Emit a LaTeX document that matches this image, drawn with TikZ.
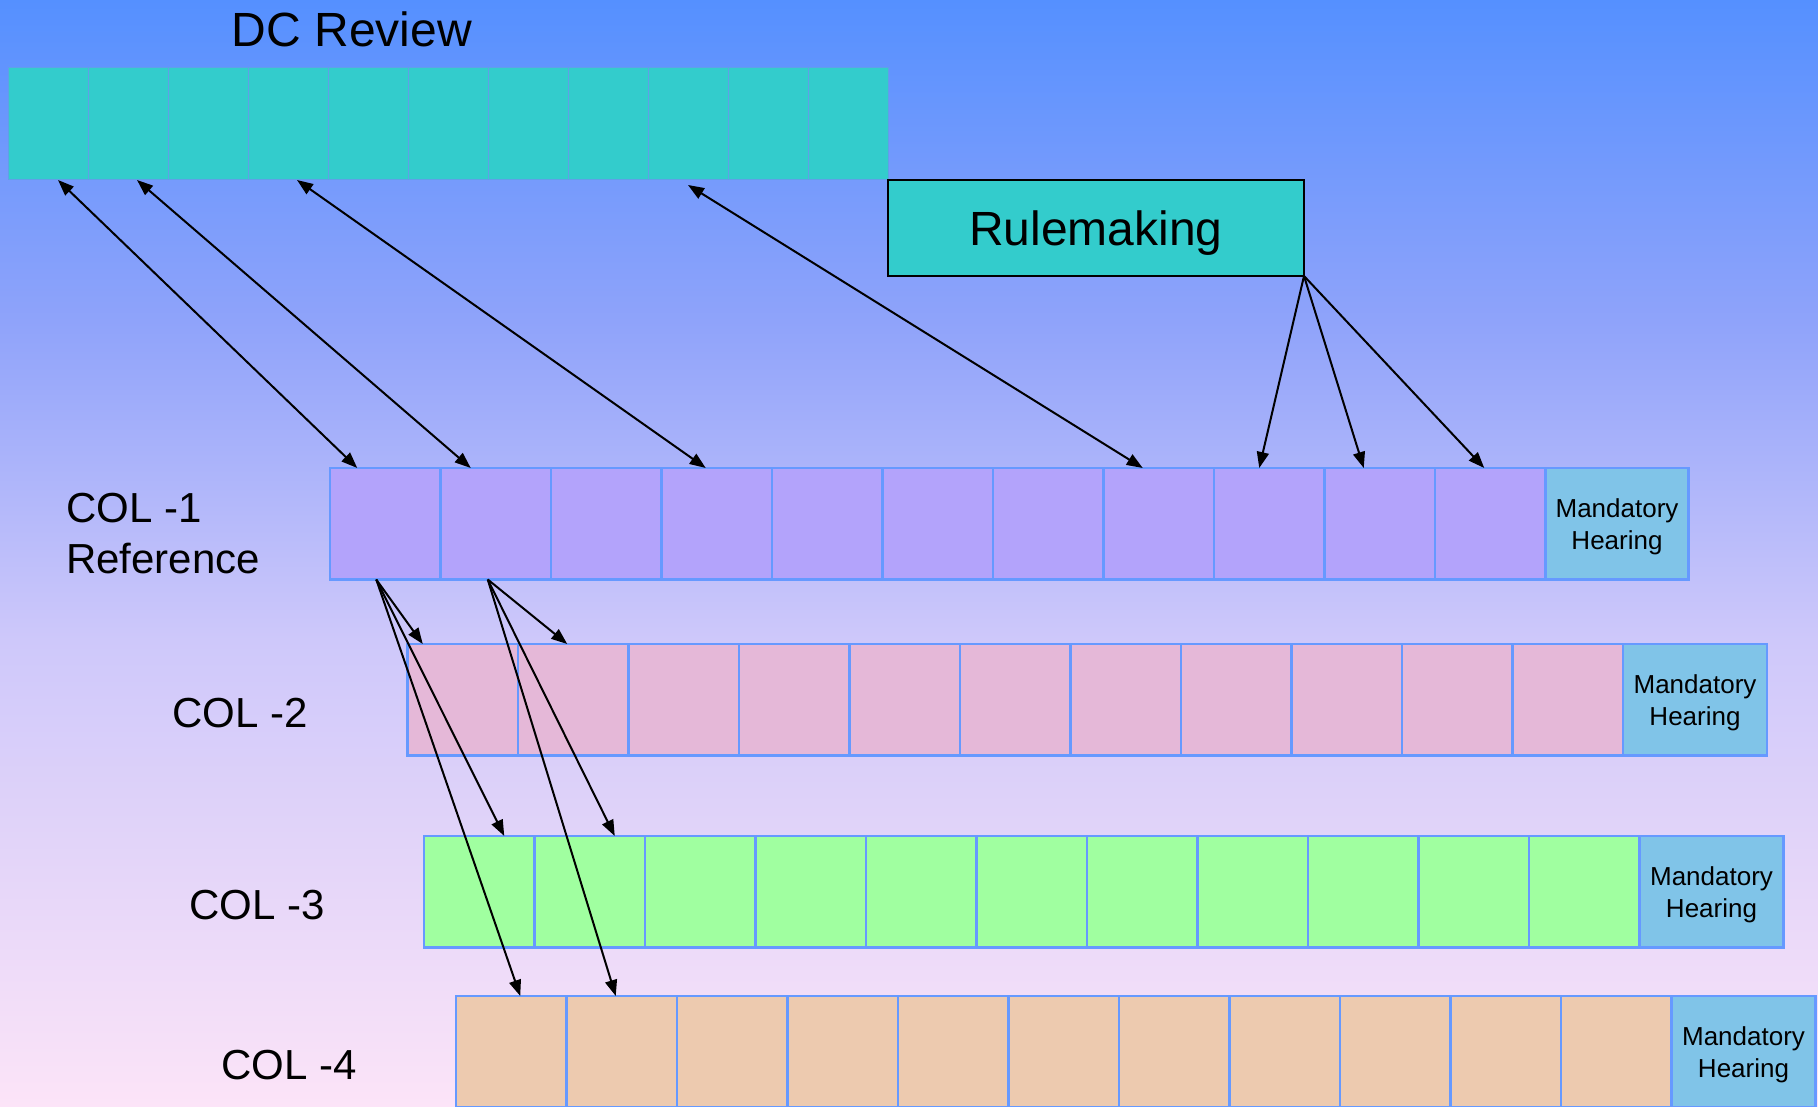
\documentclass[tikz,border=0pt]{standalone}
\usepackage{fontspec}
\setmainfont{Liberation Sans}
\usetikzlibrary{arrows.meta}
\definecolor{bgtop}{HTML}{5590FF}
\definecolor{bgup}{HTML}{8FA3FA}
\definecolor{bgmid}{HTML}{CEC8FA}
\definecolor{bgbot}{HTML}{FCE4F8}
\definecolor{tealfill}{HTML}{33CCCC}
\definecolor{dcline}{HTML}{5FA0E8}
\definecolor{colline}{HTML}{6699FF}
\definecolor{purplefill}{HTML}{B3A3FB}
\definecolor{pinkfill}{HTML}{E5B8D8}
\definecolor{greenfill}{HTML}{A0FFA0}
\definecolor{peachfill}{HTML}{EDCAAF}
\definecolor{mhblue}{HTML}{80C4E8}
\pgfdeclareverticalshading{bgshade}{100bp}{color(0bp)=(bgbot); color(25bp)=(bgbot); color(46.1bp)=(bgmid); color(60.5bp)=(bgup); color(75bp)=(bgtop); color(100bp)=(bgtop)}
\begin{document}
\begin{tikzpicture}[x=1pt,y=-1pt,
  dccell/.style={rectangle, fill=tealfill, draw=dcline, line width=1pt, minimum width=80pt, minimum height=112pt, inner sep=0pt, outer sep=0pt, anchor=north west},
  colcell/.style={rectangle, draw=colline, line width=2.5pt, minimum width=110.5pt, minimum height=111.5pt, inner sep=0pt, outer sep=0pt, anchor=north west},
  mhbox/.style={colcell, fill=mhblue, minimum width=144pt, align=center, text depth=0pt, font=\fontsize{26}{32}\selectfont},
  rulebox/.style={rectangle, fill=tealfill, draw=black, line width=2pt, minimum width=416pt, minimum height=96pt, inner sep=0pt, outer sep=0pt, anchor=north west, text depth=0pt, font=\fontsize{48}{58}\selectfont},
  lbl/.style={anchor=base west, inner sep=0pt, align=left, font=\fontsize{42}{51}\selectfont},
  tip/.tip={Triangle[length=16pt,width=12pt]},
  arr/.style={line width=2pt, -tip},
  darr/.style={line width=2pt, tip-tip}]
\useasboundingbox (0,0) rectangle (1818,1107);
\shade[shading=bgshade] (0,0) rectangle (1818,1107);

% DC Review row
\node[anchor=base, inner sep=0pt, font=\fontsize{48}{58}\selectfont] (title) at (352,47) {DC Review};
\foreach \i in {1,...,11} \node[dccell] (d\i) at ({8+(\i-1)*80},68) {};
\node[rulebox] (rule) at (888,180) {Rulemaking};

% COL -1
\foreach \i in {1,...,11} \node[colcell, fill=purplefill] (a\i) at ({330+(\i-1)*110.5},468) {};
\node[mhbox, minimum width=143pt] (a12) at (1545.5,468) {Mandatory\\Hearing};
% COL -2
\foreach \i in {1,...,11} \node[colcell, fill=pinkfill] (b\i) at ({407.5+(\i-1)*110.5},644) {};
\node[mhbox] (b12) at (1623,644) {Mandatory\\Hearing};
% COL -3
\foreach \i in {1,...,11} \node[colcell, fill=greenfill] (c\i) at ({424+(\i-1)*110.5},836) {};
\node[mhbox] (c12) at (1639.5,836) {Mandatory\\Hearing};
% COL -4
\foreach \i in {1,...,11} \node[colcell, fill=peachfill] (e\i) at ({456+(\i-1)*110.5},996) {};
\node[mhbox] (e12) at (1671.5,996) {Mandatory\\Hearing};

% labels
\node[lbl] (l1) at (66,573.5) {COL -1\\Reference};
\node[lbl] (l2) at (172,727) {COL -2};
\node[lbl] (l3) at (189,919) {COL -3};
\node[lbl] (l4) at (221,1079) {COL -4};

% DC Review <-> COL -1
\draw[darr] ([xshift=10pt]d1.south) -- ([xshift=-28pt]a1.north);
\draw[darr] ([xshift=9pt]d2.south) -- ([xshift=-25pt]a2.north);
\draw[darr] ([xshift=9pt]d4.south) -- ([xshift=-11pt]a4.north);
\draw[darr] ([yshift=-5pt]d9.south) -- ([xshift=-16pt]a8.north);

% Rulemaking -> COL -1
\draw[arr] (rule.south east) -- ([xshift=-10pt]a9.north);
\draw[arr] (rule.south east) -- ([xshift=-16pt]a10.north);
\draw[arr] (rule.south east) -- ([xshift=-6pt]a11.north);

% COL -1 -> lower rows
\draw[arr] ([xshift=-9pt]a1.south) -- ([xshift=-40pt]b1.north);
\draw[arr] ([xshift=-9pt]a1.south) -- ([xshift=25pt]c1.north);
\draw[arr] ([xshift=-9pt]a1.south) -- ([xshift=9pt]e1.north);
\draw[arr] ([xshift=-8pt]a2.south) -- ([xshift=-6pt]b2.north);
\draw[arr] ([xshift=-8pt]a2.south) -- ([xshift=25pt]c2.north);
\draw[arr] ([xshift=-8pt]a2.south) -- ([xshift=-6pt]e2.north);
\end{tikzpicture}
\end{document}
